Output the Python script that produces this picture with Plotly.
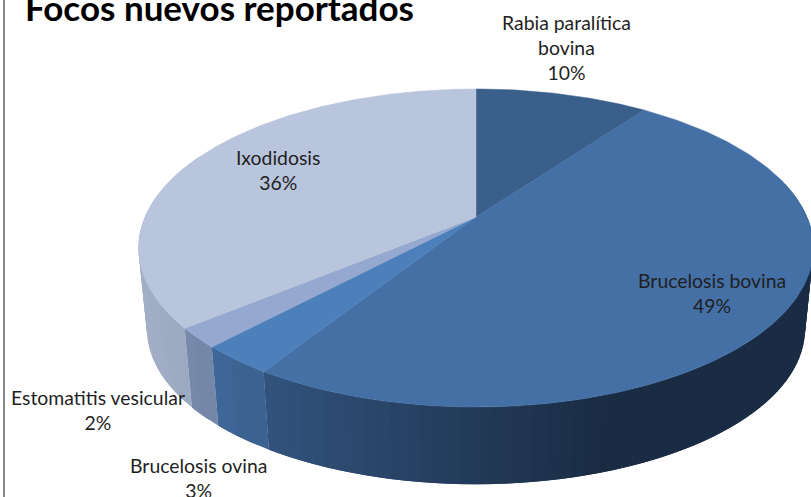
import numpy as np
import plotly.graph_objects as go

categories = ["Rabia paralítica bovina", "Brucelosis bovina", "Brucelosis ovina", "Estomatitis vesicular", "Ixodidosis"]
values = [10, 49, 3, 2, 36]
title = "Focos nuevos reportados"
top_colors = ["#3A5F8B", "#4470A6", "#4D7FBB", "#95A8CF", "#B9C5DC"]
# wall colour at the left end and right end of each slice's side wall
wall_left = ["#1A2C44", "#32547E", "#3F6899", "#7B8CAE", "#A4B0C6"]
wall_right = ["#1A2C44", "#1A2C44", "#3C6190", "#7386A8", "#98A6BF"]

W, H = 811, 497
APEX_X, APEX_Y = 476, 217
A, B, K = 331, 153, 0.195
DEPTH, BOTTOM_SCALE = 82, 0.975


def project(theta, r=1.0, lower=False):
    u = r * np.sin(theta)
    v = -r * np.cos(theta)
    d = 1 - K * v
    x, y = A * u / d, B * v / d
    if lower:
        return APEX_X + BOTTOM_SCALE * x, APEX_Y + DEPTH + BOTTOM_SCALE * y
    return APEX_X + x, APEX_Y + y


def hex_rgb(c):
    return np.array([int(c[i:i + 2], 16) for i in (1, 3, 5)], float)


def mix(c1, c2, t):
    r = hex_rgb(c1) * (1 - t) + hex_rgb(c2) * t
    return "rgb(%d,%d,%d)" % tuple(r.round())


fig = go.Figure()
edges = np.cumsum([0] + values) / sum(values) * 2 * np.pi


def poly(xs, ys, color, width=0.5):
    fig.add_trace(go.Scatter(x=xs, y=ys, mode="lines", fill="toself", fillcolor=color,
                             line=dict(color=color, width=width), hoverinfo="skip", showlegend=False))


VIS_START, VIS_END = np.radians(75), np.radians(295)
for i in range(len(values)):
    a0, a1 = max(edges[i], VIS_START), min(edges[i + 1], VIS_END)
    if a1 <= a0:
        continue
    n = max(3, int((a1 - a0) / np.radians(2.0)))
    ts = np.linspace(a0, a1, n + 1)
    xt, _ = project(ts)
    xmin, xmax = xt.min(), xt.max()
    if i == 1:
        xmin, xmax = project(np.radians(212))[0], project(np.radians(160))[0]
    # strips are painted from the far end of the slice back, each overlapping the previous one
    for j in range(n - 1, -1, -1):
        seg = np.linspace(ts[j], ts[min(j + 2, n)], 5)
        tx, ty = project(seg)
        bx, by = project(seg[::-1], lower=True)
        f = np.clip((project(ts[j] + (ts[1] - ts[0]) / 2)[0] - xmin) / (xmax - xmin), 0, 1)
        poly(np.r_[tx, bx, tx[0]], np.r_[ty, by, ty[0]], mix(wall_left[i], wall_right[i], f), 0)

for i in range(len(values)):
    ts = np.linspace(edges[i], edges[i + 1], max(8, int(values[i] * 4)))
    tx, ty = project(ts)
    poly(np.r_[APEX_X, tx, APEX_X], np.r_[APEX_Y, ty, APEX_Y], top_colors[i], 0.5)

label_xy = [(566, 47), (712, 293), (198, 478), (98, 410), (278, 170)]
for i, (lx, ly) in enumerate(label_xy):
    name = categories[i].replace("paralítica ", "paralítica<br>")
    fig.add_annotation(x=lx, y=ly, text=f"{name}<br>{values[i]}%", showarrow=False, xref="x", yref="y",
                       align="center", font=dict(family="Lato", size=19.4, color="#1F1F1F"))

fig.add_annotation(x=23, y=7, text=f"<b>{title}</b>", showarrow=False, xanchor="left", xref="x", yref="y",
                   font=dict(family="Lato", size=35, color="#000000"))

fig.add_shape(type="line", x0=4, x1=4, y0=0, y1=H, xref="x", yref="y", line=dict(color="#868686", width=2), layer="above")

fig.update_layout(width=W, height=H, margin=dict(l=0, r=0, t=0, b=0), autosize=False,
                  paper_bgcolor="white", plot_bgcolor="white", showlegend=False,
                  xaxis=dict(range=[0, W], visible=False, fixedrange=True),
                  yaxis=dict(range=[H, 0], visible=False, fixedrange=True))
fig.write_html("out.html", config={"displayModeBar": False, "responsive": False},
               post_script="document.body.style.margin='0';document.documentElement.style.overflow='hidden';")
